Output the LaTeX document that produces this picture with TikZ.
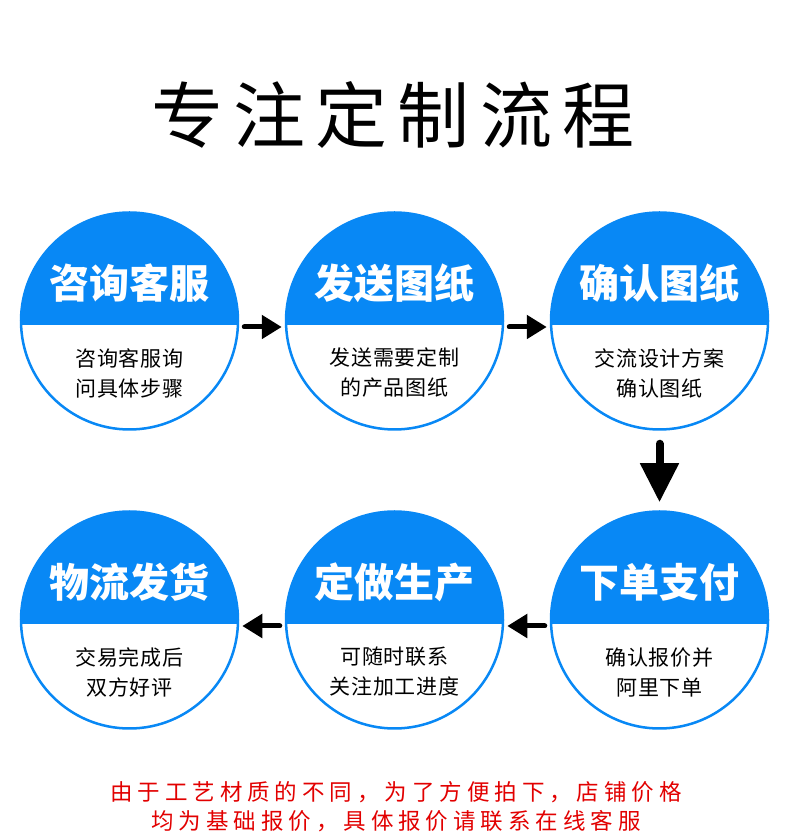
\documentclass[tikz,border=0pt]{standalone}
\usepackage{fontspec}
\setmainfont{Noto Sans CJK SC}
\usepackage{xcolor}
\usepackage{tikz}
\usetikzlibrary{calc, arrows.meta, positioning}

\definecolor{stepblue}{RGB}{8,136,245}
\definecolor{noticered}{RGB}{226,0,0}

\begin{document}
\begin{tikzpicture}[
  x=1pt, y=1pt,
  stepcircle/.style={circle, draw=stepblue, line width=2.5pt, fill=white,
    minimum size=217pt, inner sep=0pt,
    path picture={\fill[stepblue] ([yshift=-4.5pt]path picture bounding box.west)
      rectangle (path picture bounding box.north east);}},
  steptitle/.style={text=white, font=\fontsize{40}{40}\selectfont\bfseries, inner sep=0pt},
  stepbody/.style={align=center, inner sep=0pt,
    font=\fontsize{21}{30}\selectfont\addfontfeature{LetterSpace=3}},
  flowarrow/.style={line width=5pt, line cap=round, -{Triangle[length=20pt,width=23pt]},
    shorten <=5pt, shorten >=3pt},
  downarrow/.style={line width=8pt, line cap=round, -{Triangle[length=39pt,width=37pt]},
    shorten <=13pt, shorten >=8pt}
]
\useasboundingbox[fill=white] (0,0) rectangle (790,834);

% heading
\node[font=\fontsize{72}{72}\selectfont\addfontfeature{LetterSpace=14}] (heading) at (393,719) {专注定制流程};

% first row
\node[stepcircle] (s1) at (129.5,513) {};
\node[steptitle] (s1-title) at ($(s1.center)+(0,38)$) {咨询客服};
\node[stepbody] (s1-body) at ($(s1.center)+(0,-52)$) {咨询客服询\\问具体步骤};

\node[stepcircle] (s2) at (394.5,513) {};
\node[steptitle] (s2-title) at ($(s2.center)+(0,38)$) {发送图纸};
\node[stepbody] (s2-body) at ($(s2.center)+(0,-52)$) {发送需要定制\\的产品图纸};

\node[stepcircle] (s3) at (659.5,513) {};
\node[steptitle] (s3-title) at ($(s3.center)+(0,38)$) {确认图纸};
\node[stepbody] (s3-body) at ($(s3.center)+(0,-52)$) {交流设计方案\\确认图纸};

% second row, right to left
\node[stepcircle] (s4) at (659.5,214) {};
\node[steptitle] (s4-title) at ($(s4.center)+(0,38)$) {下单支付};
\node[stepbody] (s4-body) at ($(s4.center)+(0,-52)$) {确认报价并\\阿里下单};

\node[stepcircle] (s5) at (394.5,214) {};
\node[steptitle] (s5-title) at ($(s5.center)+(0,38)$) {定做生产};
\node[stepbody] (s5-body) at ($(s5.center)+(0,-52)$) {可随时联系\\关注加工进度};

\node[stepcircle] (s6) at (129.5,214) {};
\node[steptitle] (s6-title) at ($(s6.center)+(0,38)$) {物流发货};
\node[stepbody] (s6-body) at ($(s6.center)+(0,-52)$) {交易完成后\\双方好评};

% arrows
\draw[flowarrow] ([yshift=-6pt]s1.east) -- ([yshift=-6pt]s2.west);
\draw[flowarrow] ([yshift=-6pt]s2.east) -- ([yshift=-6pt]s3.west);
\draw[downarrow] (s3.south) -- (s4.north);
\draw[flowarrow] ([yshift=-6pt]s4.west) -- ([yshift=-6pt]s5.east);
\draw[flowarrow] ([yshift=-6pt]s5.west) -- ([yshift=-6pt]s6.east);

% notice
\node[text=noticered, align=center,
  font=\fontsize{22.5}{29}\selectfont\addfontfeature{LetterSpace=22}] (notice) at (396,27)
  {由于工艺材质的不同，为了方便拍下，店铺价格\\均为基础报价，具体报价请联系在线客服};
\end{tikzpicture}
\end{document}
